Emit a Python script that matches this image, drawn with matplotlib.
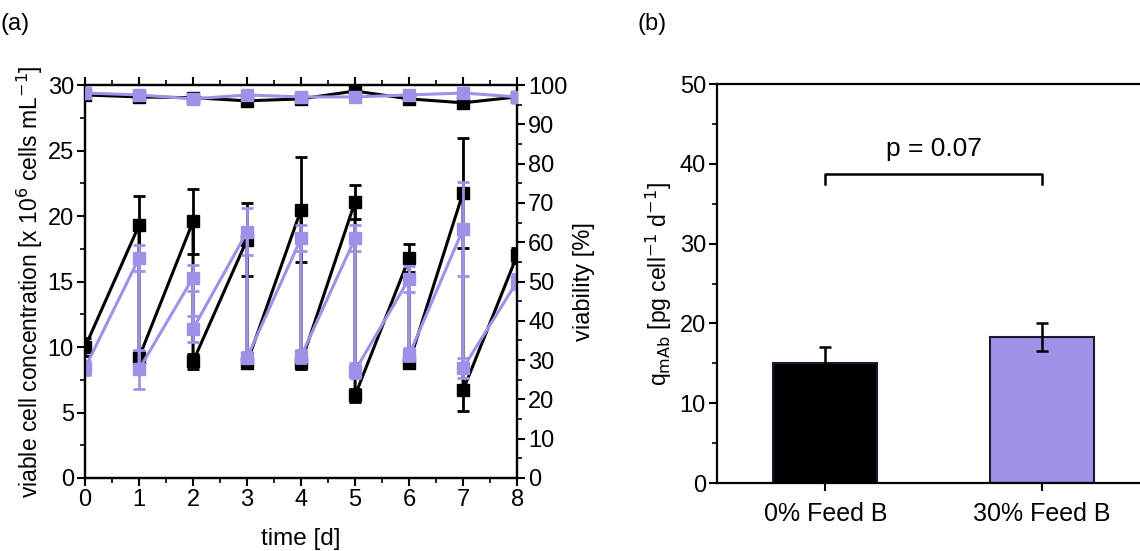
import matplotlib.pyplot as plt
import numpy as np

plt.rcParams['font.family'] = ['Liberation Sans', 'DejaVu Sans']

# panel (a): viable cell concentration, sampled before / after each feed
t_vcd = [0, 1, 1, 2, 2, 3, 3, 4, 4, 5, 5, 6, 6, 7, 7, 8]
vcd_0 = [10.0, 19.3, 9.2, 19.6, 8.9, 18.2, 8.8, 20.5, 8.8, 21.1, 6.3, 16.8, 8.8, 21.8, 6.7, 17.0]
vcd_0_err = [0.7, 2.2, 0.5, 2.5, 0.6, 2.8, 0.4, 4.0, 0.5, 1.3, 0.5, 1.1, 0.4, 4.2, 1.6, 0.6]
vcd_30 = [8.4, 16.8, 8.3, 15.3, 11.4, 18.8, 9.2, 18.3, 9.3, 18.3, 8.2, 15.2, 9.4, 19.0, 8.4, 15.0]
vcd_30_err = [0.5, 1.0, 1.5, 1.0, 1.0, 1.8, 0.4, 1.0, 0.5, 1.0, 0.6, 1.0, 0.5, 3.6, 0.8, 0.6]

# viability [%], one point per day
t_via = [0, 1, 2, 3, 4, 5, 6, 7, 8]
via_0 = [97.5, 97.0, 96.8, 96.0, 96.5, 98.5, 96.5, 95.5, 97.0]
via_0_err = [0.6, 0.5, 0.6, 1.0, 0.6, 0.6, 0.6, 1.0, 0.5]
via_30 = [98.0, 97.5, 96.5, 97.5, 97.0, 97.0, 97.5, 98.0, 97.0]
via_30_err = [0.5, 0.5, 0.8, 0.6, 0.6, 0.5, 0.5, 0.6, 0.5]

# panel (b): specific productivity
groups = ['0% Feed B', '30% Feed B']
q_mab = [15.1, 18.3]
q_mab_err = [2.0, 1.7]

black = '#000000'
purple = '#9f91e8'

fig = plt.figure(figsize=(11.4, 5.51), dpi=100)

# ---- (a)
ax = fig.add_axes([0.0746, 0.1325, 0.379, 0.713])
ax2 = ax.twinx()

for vals, errs, col, z in [(vcd_0, vcd_0_err, black, 3), (vcd_30, vcd_30_err, purple, 4)]:
    ax.errorbar(t_vcd, vals, yerr=errs, color=col, lw=2.2, marker='s', ms=8,
                capsize=4, capthick=2, elinewidth=2, zorder=z)
for vals, errs, col, z in [(via_0, via_0_err, black, 3), (via_30, via_30_err, purple, 4)]:
    ax2.errorbar(t_via, vals, yerr=errs, color=col, lw=2.2, marker='s', ms=8,
                 capsize=4, capthick=2, elinewidth=2, zorder=z)

ax.set_xlim(0, 8)
ax.set_ylim(0, 30)
ax2.set_ylim(0, 100)
ax.set_xticks(range(0, 9))
ax.set_xticks(np.arange(0.5, 8, 1), minor=True)
ax.set_yticks(range(0, 31, 5))
ax.set_yticks(np.arange(2.5, 30, 5), minor=True)
ax2.set_yticks(range(0, 101, 10))
ax2.set_yticks(range(5, 100, 10), minor=True)

ax.set_xlabel('time [d]', fontsize=17.5, labelpad=12)
ax.set_ylabel(r'viable cell concentration [x 10$^{6}$ cells mL$^{-1}$]', fontsize=16.5, labelpad=2)
ax2.set_ylabel('viability [%]', fontsize=17, labelpad=4)

for a in (ax, ax2):
    for s in a.spines.values():
        s.set_linewidth(1.6)
    a.tick_params(which='major', labelsize=17, width=1.5, length=6, direction='out', pad=2)
    a.tick_params(which='minor', width=1.2, length=3.5, direction='out')
ax.tick_params(axis='x', top=True, which='both')

# ---- (b)
bx = fig.add_axes([0.629, 0.1234, 0.380, 0.724])
xpos = np.arange(len(groups))
bx.bar(xpos, q_mab, width=0.48, color=[black, purple], edgecolor='#1a1a2e', lw=1.5)
bx.errorbar(xpos, q_mab, yerr=q_mab_err, fmt='none', ecolor=black,
            capsize=4, capthick=1.8, elinewidth=1.8)

bx.set_xlim(-0.5, 1.5)
bx.set_ylim(0, 50)
bx.set_xticks(xpos)
bx.set_xticklabels(groups)
bx.set_yticks(range(0, 51, 10))
bx.set_yticks(range(5, 50, 10), minor=True)
bx.set_ylabel(r'q$_{\mathrm{mAb}}$ [pg cell$^{-1}$ d$^{-1}$]', fontsize=16.5)
for s in bx.spines.values():
    s.set_linewidth(1.6)
bx.tick_params(which='major', labelsize=17, width=1.5, length=6, direction='out', pad=2)
bx.tick_params(axis='x', labelsize=18, pad=8)
bx.tick_params(which='minor', width=1.2, length=3.5, direction='out')

# significance bracket
bx.plot([0, 0, 1, 1], [37.5, 38.7, 38.7, 37.5], color=black, lw=1.8)
bx.text(0.5, 40.3, 'p = 0.07', ha='center', va='bottom', fontsize=19)

fig.text(0.0, 0.945, '(a)', fontsize=17)
fig.text(0.559, 0.945, '(b)', fontsize=17)

fig.savefig('out.png', dpi=100)
